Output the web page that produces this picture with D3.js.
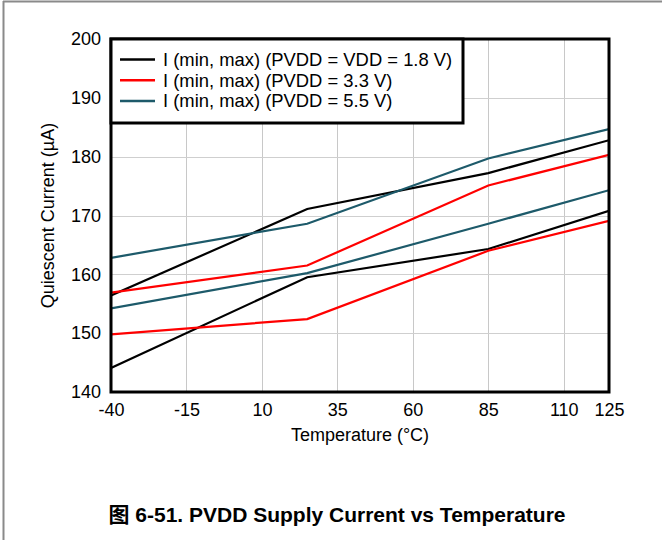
<!DOCTYPE html>
<html><head><meta charset="utf-8">
<script src="https://cdn.jsdelivr.net/npm/d3@7"></script>
<style>body{margin:0;background:#fff}svg{display:block}text{font-family:"Liberation Sans",Arial,sans-serif}</style>
</head><body>
<script>
const temps = [-40, 25, 85, 125];
const xTicks = [-40, -15, 10, 35, 60, 85, 110, 125];
const yTicks = [140, 150, 160, 170, 180, 190, 200];
const seriesNames = ["I (min, max) (PVDD = VDD = 1.8 V)", "I (min, max) (PVDD = 3.3 V)", "I (min, max) (PVDD = 5.5 V)"];
const colors = ["#000000", "#ff0000", "#1d5a6a"];
const max18 = [156.4, 171.1, 177.2, 182.8];
const min18 = [144.1, 159.5, 164.3, 170.8];
const max33 = [156.9, 161.5, 175.1, 180.3];
const min33 = [149.8, 152.4, 164.0, 169.1];
const max55 = [162.8, 168.6, 179.7, 184.7];
const min55 = [154.2, 160.2, 168.6, 174.3];
const lines = [
  {s: 0, v: max18}, {s: 0, v: min18},
  {s: 1, v: max33}, {s: 1, v: min33},
  {s: 2, v: max55}, {s: 2, v: min55}
];

const W = 662, H = 540;
const L = 111, R = 609, T = 39, B = 392;
const FS = 18;
const svg = d3.select("body").append("svg").attr("width", W).attr("height", H);

// outer frame lines
svg.append("line").attr("x1", 3.5).attr("x2", 3.5).attr("y1", 1).attr("y2", H).attr("stroke", "#8a8a8a").attr("stroke-width", 2);
svg.append("line").attr("x1", 3).attr("x2", W).attr("y1", 1.5).attr("y2", 1.5).attr("stroke", "#8a8a8a").attr("stroke-width", 2);

const x = d3.scaleLinear().domain([-40, 125]).range([L, R]);
const y = d3.scaleLinear().domain([140, 200]).range([B, T]);

// grid
const g = svg.append("g");
g.selectAll(".vg").data(xTicks.slice(1, -1)).enter().append("line")
  .attr("x1", d => Math.round(x(d)) + 0.5).attr("x2", d => Math.round(x(d)) + 0.5)
  .attr("y1", T).attr("y2", B).attr("stroke", "#c8c8c8").attr("stroke-width", 1);
g.selectAll(".hg").data(yTicks.slice(1, -1)).enter().append("line")
  .attr("y1", d => Math.round(y(d)) + 0.5).attr("y2", d => Math.round(y(d)) + 0.5)
  .attr("x1", L).attr("x2", R).attr("stroke", "#cfcfcf").attr("stroke-width", 1);

// axes labels via d3 axes
const xAxis = svg.append("g").attr("transform", `translate(0,${B})`)
  .call(d3.axisBottom(x).tickValues(xTicks).tickSize(0).tickPadding(11).tickFormat(d => String(d)));
xAxis.select(".domain").remove();
xAxis.selectAll("text").attr("font-size", FS).attr("fill", "#000").style("font-family", "Liberation Sans, Arial, sans-serif");
const yAxis = svg.append("g").attr("transform", `translate(${L},0)`)
  .call(d3.axisLeft(y).tickValues(yTicks).tickSize(0).tickPadding(10).tickFormat(d => String(d)));
yAxis.select(".domain").remove();
yAxis.selectAll("text").attr("font-size", FS).attr("fill", "#000").style("font-family", "Liberation Sans, Arial, sans-serif");

// data lines
const line = d3.line().x((d, i) => x(temps[i])).y(d => y(d));
svg.append("clipPath").attr("id", "c").append("rect").attr("x", L).attr("y", T).attr("width", R - L).attr("height", B - T);
svg.append("g").attr("clip-path", "url(#c)").selectAll("path").data(lines).enter().append("path")
  .attr("d", d => line(d.v)).attr("fill", "none").attr("stroke", d => colors[d.s]).attr("stroke-width", 2.2);

// frame
svg.append("rect").attr("x", L).attr("y", T).attr("width", R - L).attr("height", B - T)
  .attr("fill", "none").attr("stroke", "#000").attr("stroke-width", 3);

// legend
const lg = svg.append("g");
lg.append("rect").attr("x", L).attr("y", T).attr("width", 352).attr("height", 84)
  .attr("fill", "#fff").attr("stroke", "#000").attr("stroke-width", 3);
seriesNames.forEach((n, i) => {
  const yy = 59.5 + i * 20.7;
  lg.append("line").attr("x1", 120).attr("x2", 155).attr("y1", yy).attr("y2", yy).attr("stroke", colors[i]).attr("stroke-width", 2.5);
  lg.append("text").attr("x", 163).attr("y", yy + 6.4).attr("font-size", 18.4).text(n);
});

// axis titles
svg.append("text").attr("x", (L + R) / 2).attr("y", 441).attr("text-anchor", "middle").attr("font-size", FS).text("Temperature (°C)");
svg.append("text").attr("transform", `translate(54,${(T + B) / 2}) rotate(-90)`).attr("text-anchor", "middle").attr("font-size", FS).text("Quiescent Current (µA)");

// caption
svg.append("text").attr("x", 337).attr("y", 522).attr("text-anchor", "middle").attr("font-size", 21).attr("font-weight", "bold")
  .style("font-family", "'Liberation Sans', 'Noto Sans CJK SC', Arial, sans-serif").text("图 6-51. PVDD Supply Current vs Temperature");
</script>
</body></html>
